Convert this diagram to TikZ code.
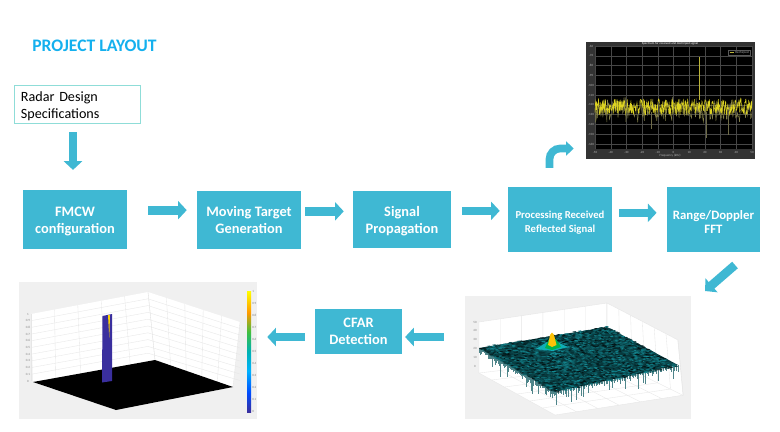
\documentclass[tikz,border=0pt]{standalone}
\usepackage{fontspec}
\setmainfont{Carlito}
\usetikzlibrary{arrows.meta}
\definecolor{boxblue}{HTML}{3FB8D3}
\definecolor{titleblue}{HTML}{14B0EE}
\definecolor{specline}{HTML}{8FDDD8}
\definecolor{plotgrey}{HTML}{F0F0F0}
\definecolor{gridgrey}{HTML}{E6E6E6}
\definecolor{surfteal}{HTML}{148C96}
\definecolor{barblue}{HTML}{3A2F9E}
\pgfdeclareverticalshading{parula}{100bp}{
  color(0bp)=(barblue); color(25bp)=(barblue);
  color(33bp)=(blue!70!cyan); color(42bp)=(cyan!70!blue);
  color(50bp)=(teal!60!cyan); color(58bp)=(green!50!gray);
  color(66bp)=(orange!80!yellow); color(75bp)=(yellow); color(100bp)=(yellow)}
\newcommand{\lowerline}{\rule{0pt}{10.5pt}}
\tikzset{
  block/.style={fill=boxblue,text=white,font=\bfseries\fontsize{10.8}{12.75}\selectfont,align=center,inner sep=0pt},
  flow/.style={draw=boxblue,line width=6.5pt,-{Triangle[width=13.5pt,length=6.5pt]}},
  plotbg/.style={fill=plotgrey,inner sep=0pt},
  tinylabel/.style={font=\fontsize{2.4}{3}\selectfont,inner sep=0pt,text=gray},
}
\begin{document}
\begin{tikzpicture}[x=.75pt,y=-.75pt]
    \useasboundingbox (0,0) rectangle (780,431);
    \node[text=titleblue,font=\bfseries\fontsize{13.2}{16}\selectfont,anchor=west,inner sep=0pt] (title) at (32,45.5) {PROJECT LAYOUT};
    \node[draw=specline,line width=.6pt,minimum width=94.5pt,minimum height=29pt,text width=84pt,align=left,inner sep=0pt,font=\fontsize{10.6}{12.75}\selectfont] (specs) at (77,104.5) {\lowerline Radar Design\\Specifications};

    % blocks of the chain
    \node[block,minimum width=78pt,minimum height=44pt] (fmcw) at (75,219.5) {\lowerline FMCW\\configuration};
    \node[block,minimum width=78pt,minimum height=44pt] (target) at (249,220) {Moving Target\\Generation};
    \node[block,minimum width=73.5pt,minimum height=43pt] (channel) at (402,219.5) {\lowerline Signal\\Propagation};
    \node[block,minimum width=78pt,minimum height=48.5pt,font=\bfseries\fontsize{8}{10.5}\selectfont] (receiver) at (560,219.5) {\lowerline Processing Received\\Reflected Signal};
    \node[block,minimum width=70pt,minimum height=48.5pt,font=\bfseries\fontsize{9.6}{10.5}\selectfont] (fft) at (713.5,219.5) {\lowerline Range/Doppler\\FFT};
    \node[block,minimum width=65pt,minimum height=34pt] (cfar) at (358.5,331.5) {CFAR\\Detection};

    % plot panels
    \node[fill=black!80,minimum width=127pt,minimum height=88pt,inner sep=0pt] (spectrum) at (670.5,100.5) {};
    \node[plotbg,minimum width=169.5pt,minimum height=92.5pt] (surface) at (578,357.5) {};
    \node[plotbg,minimum width=178.5pt,minimum height=103pt] (result) at (138,350.5) {};

    % spectrum
    \fill[black] (595,46) rectangle (752,149);
    \foreach \i in {0,...,10} {
      \draw[white!28!black,line width=.2pt] (595+\i*15.7,46) -- (595+\i*15.7,149);
      \draw[white!28!black,line width=.2pt] (595,46+\i*9.8) -- (752,46+\i*9.8);
      \pgfmathtruncatemacro{\xval}{-50+10*\i}
      \pgfmathtruncatemacro{\yval}{-60-10*\i}
      \node[tinylabel,text=gray!60] (xtick\i) at (595+\i*15.7,152.5) {\xval};
      \node[tinylabel,text=gray!60] (ytick\i) at (591,46+\i*9.8) {\yval};
    }
    \pgfmathsetseed{21}
    \draw[color=yellow!45!black,line width=.35pt] plot[domain=595:752,samples=240] (\x,{110+9*rand+5*rand});
    \draw[color=yellow!85!black,line width=.3pt] plot[domain=595:752,samples=420] (\x,{107+8*rand});
    \draw[color=yellow!70!black,line width=.45pt] (699,100) -- (699,57);
    \draw[color=yellow!35!black,line width=.4pt] (706,112) -- (706,138) (651,112) -- (651,129) (728,112) -- (728,135);
    \node[tinylabel,text=white] (sptitle) at (670,44) {Spectrum for received and dechirped signal};
    \node[tinylabel,text=gray!60] (spxlabel) at (670,156) {Frequency (kHz)};
    \draw[white!35!black,line width=.2pt,fill=black] (728,50) rectangle (750,55.5);
    \draw[yellow!70!black,line width=.3pt] (729.5,52.7) -- (734,52.7);
    \node[tinylabel,anchor=west,text=gray!60] (splegend) at (735,52.7) {Dechirped};

    % noise surface
    \fill[white] (479,322) -- (607,303) -- (678,340) -- (683,395) -- (555,415) -- (479,373) -- cycle;
    \foreach \i in {0,...,6} {
      \draw[gridgrey,line width=.25pt] (479+\i*21.3,322-\i*3.2) -- (479+\i*21.3,373-\i*2.5) -- (555+\i*21.3,415-\i*3.3);
      \draw[gridgrey,line width=.25pt] (607+\i*11.8,303+\i*6.2) -- (607+\i*12.7,358+\i*6.2) -- (479+\i*12.7,373+\i*7);
    }
    \draw[gridgrey,line width=.3pt] (479,322) -- (607,303) -- (678,340) -- (683,395) (607,303) -- (607,358);
    \pgfmathsetseed{7}
    \foreach \i in {0,...,75} {
      \pgfmathsetmacro{\t}{\i/75}
      \pgfmathsetmacro{\lenA}{2+4*rnd^2+12*rnd^8}
      \pgfmathsetmacro{\lenB}{2+4*rnd^2+13*rnd^8}
      \draw[surfteal!45!gray,line width=.35pt] (479+76*\t,348+44*\t) -- ++(0,\lenA);
      \draw[surfteal!45!gray,line width=.35pt] (555+123*\t,392-27*\t) -- ++(0,\lenB);
    }
    \fill[surfteal!45!black] (479,348) -- (607,327) -- (678,365) -- (555,392) -- cycle;
    \foreach \i in {0,...,47} \foreach \j in {0,...,47} {
      \pgfmathtruncatemacro{\shade}{10+90*rnd}
      \pgfmathsetmacro{\lift}{1.1*rand}
      \pgfmathsetmacro{\xpos}{479+\i*2.67+\j*1.58-\i*\j*.0022}
      \pgfmathsetmacro{\ypos}{348-\i*.44+\j*.92-\i*\j*.0023+\lift}
      \fill[surfteal!\shade!black] (\xpos,\ypos) -- ++(2.8,-.45) -- ++(1.6,.95) -- ++(-2.8,.45) -- cycle;
    }
    \fill[surfteal!70!cyan] (536,349) -- (547,342) -- (557,342) -- (568,347) -- (553,351) -- cycle;
    \fill[green!40!teal] (545,348) -- (549,339) -- (556,339) -- (561,347) -- (552,350) -- cycle;
    \fill[yellow!55!orange] (548,345) -- (550,335) -- (552,332.5) -- (554,335) -- (556.5,345) -- (552,347) -- cycle;
    \foreach \i in {0,...,5} {
      \pgfmathtruncatemacro{\zval}{50-10*\i}
      \node[tinylabel] (ztick\i) at (475,322+\i*8.8) {\zval};
    }

    % detection result
    \fill[white] (31,314) -- (148,292) -- (240,322) -- (233,387) -- (116,410) -- (33,382) -- cycle;
    \foreach \i in {0,...,5} {
      \draw[gridgrey,line width=.25pt] (31+\i*23.4,314-\i*4.4) -- (31+\i*24.8,381-\i*4.2);
      \draw[gridgrey,line width=.25pt] (148+\i*18.4,292+\i*6) -- (155+\i*15.6,360+\i*5.4);
    }
    \foreach \i in {1,...,9} {
      \draw[gridgrey,line width=.25pt] (31,314+\i*6.7) -- (148,292+\i*6.8) -- (240,322+\i*6.5);
    }
    \fill[black] (33,382) -- (116,410) -- (233,387) -- (155,360) -- cycle;
    \fill[barblue] (102.5,316) -- (112,314) -- (112,381) -- (102,382.5) -- cycle;
    \fill[yellow!70!orange] (108,315) -- (110,315) -- (109.3,338) -- cycle;
    \foreach \zval [count=\i from 0] in {1,0.9,0.8,0.7,0.6,0.5,0.4,0.3,0.2,0.1,0} {
      \node[tinylabel] (rztick\i) at (28,314+\i*6.7) {\zval};
      \node[tinylabel,anchor=west] (cbtick\i) at (252,291.5+\i*12) {\zval};
    }
    \shade[shading=parula] (247,291) rectangle (251,412);

    % connectors
    \draw[flow,shorten <=6pt,shorten >=15pt] ([xshift=-3pt]specs.south) -- ([xshift=-3pt]specs.south |- fmcw.north);
    \draw[flow,shorten <=15.75pt,shorten >=7.5pt] ([yshift=7pt]fmcw.east) -- ([yshift=7pt]fmcw.east -| target.west);
    \draw[flow,shorten <=3pt,shorten >=6.75pt] ([yshift=6.5pt]target.east) -- ([yshift=6.5pt]target.east -| channel.west);
    \draw[flow,shorten <=8.25pt,shorten >=6pt] ([yshift=6.5pt]channel.east) -- ([yshift=6.5pt]channel.east -| receiver.west);
    \draw[flow,shorten <=5.25pt,shorten >=7.5pt] ([yshift=5pt]receiver.east) -- ([yshift=5pt]receiver.east -| fft.west);
    \coordinate (bend) at (549.5,148.5);
    \draw[flow,line width=5.75pt,-{Triangle[width=10.5pt,length=5.5pt]},rounded corners=8pt,shorten <=14.25pt,shorten >=9pt] (bend |- receiver.north) -- (bend) -- (bend -| spectrum.west);
    \coordinate (diagstart) at (735,265);
    \coordinate (diagend) at (705,291);
    \draw[flow] (diagstart) -- (diagend);
    \coordinate (lowrow) at (0,337);
    \draw[flow,shorten <=15.75pt,shorten >=2.25pt] (surface.west |- lowrow) -- (cfar.east |- lowrow);
    \draw[flow,shorten <=7.5pt,shorten >=7.5pt] (cfar.west |- lowrow) -- (result.east |- lowrow);
\end{tikzpicture}
\end{document}
